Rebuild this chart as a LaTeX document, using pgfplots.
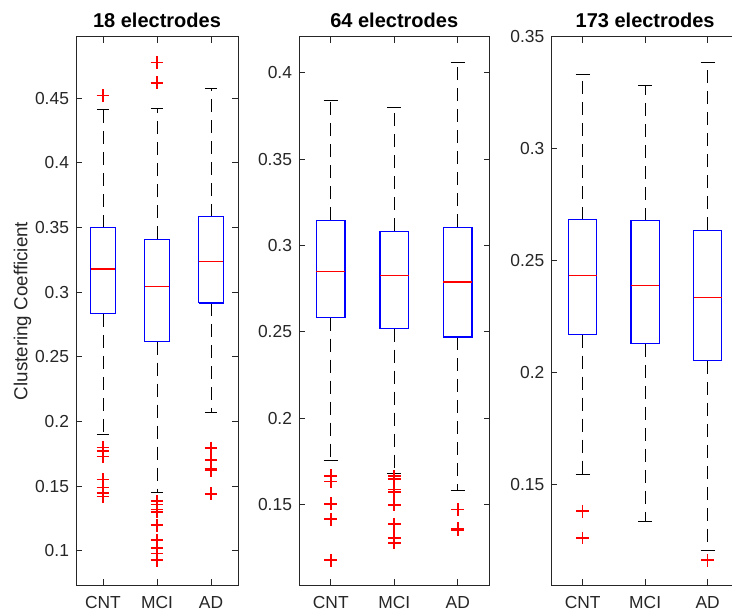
\documentclass[border=0pt]{standalone}
\usepackage{pgfplots}
\pgfplotsset{compat=1.18}
\usepackage{fontspec}
\setmainfont{Liberation Sans}
\definecolor{mgray}{rgb}{0.15,0.15,0.15}

\pgfplotsset{
  mlbox/.style={
    scale only axis, height=274pt, xmin=0.5, xmax=3.5,
    xtick={1,2,3}, xticklabels={CNT,MCI,AD},
    tick pos=both, xticklabel pos=lower, yticklabel pos=left,
    major tick length=2.8pt,
    tick style={mgray, line width=0.5pt},
    axis line style={mgray, line width=0.5pt},
    tick label style={font=\fontsize{8.7}{10}\selectfont, text=mgray},
    xticklabel style={yshift=-2pt},
    title style={font=\bfseries\fontsize{10}{12}\selectfont, yshift=-5pt},
    /pgf/number format/assume math mode=true,
    /pgf/number format/fixed,
    /pgf/number format/precision=2,
  },
  whisk/.style={black, line width=0.5pt, dash pattern=on 6.5pt off 4pt, forget plot},
  cap/.style={black, line width=0.5pt, forget plot},
  outl/.style={only marks, mark=+, red, mark size=3.2pt, mark options={line width=0.8pt}},
}

% #1 position, #2 lower whisker, #3 lower quartile, #4 median, #5 upper quartile, #6 upper whisker
\newcommand{\mlboxplot}[6]{%
  \pgfmathsetmacro{\bl}{#1-0.225}\pgfmathsetmacro{\br}{#1+0.225}%
  \pgfmathsetmacro{\cl}{#1-0.1125}\pgfmathsetmacro{\cr}{#1+0.1125}%
  \addplot[whisk] coordinates {(#1,#3) (#1,#2)};
  \addplot[whisk] coordinates {(#1,#5) (#1,#6)};
  \addplot[cap] coordinates {(\cl,#2) (\cr,#2)};
  \addplot[cap] coordinates {(\cl,#6) (\cr,#6)};
  \addplot[blue, line width=0.6pt] coordinates {(\bl,#3) (\br,#3) (\br,#5) (\bl,#5) (\bl,#3)};
  \addplot[red, line width=0.6pt] coordinates {(\bl,#4) (\br,#4)};
}

\begin{document}
\begin{tikzpicture}
\path[use as bounding box] (0,0) rectangle (366pt,307.5pt);

% 18 electrodes
\begin{axis}[mlbox, anchor=south west, at={(38pt,15pt)}, width=81pt,
  ymin=0.0735, ymax=0.4974,
  ytick={0.1,0.15,0.2,0.25,0.3,0.35,0.4,0.45},
  title={18 electrodes},
  ylabel={Clustering Coefficient},
  ylabel style={font=\fontsize{9.4}{11}\selectfont, text=mgray, yshift=-5pt}]
\mlboxplot{1}{0.190}{0.2833}{0.318}{0.350}{0.4415}
\mlboxplot{2}{0.1447}{0.2617}{0.3044}{0.341}{0.4423}
\mlboxplot{3}{0.2068}{0.2916}{0.3235}{0.3585}{0.4574}
\addplot[outl] coordinates {
  (1,0.452) (1,0.180) (1,0.177) (1,0.173) (1,0.155) (1,0.149) (1,0.1445) (1,0.142)
  (2,0.4778) (2,0.462) (2,0.1383) (2,0.1357) (2,0.132) (2,0.130) (2,0.1197)
  (2,0.1081) (2,0.1022) (2,0.0978) (2,0.0927)
  (3,0.1795) (3,0.170) (3,0.1633) (3,0.162) (3,0.144)
};
\end{axis}

% 64 electrodes
\begin{axis}[mlbox, anchor=south west, at={(149.5pt,15pt)}, width=95.25pt,
  ymin=0.1035, ymax=0.4207,
  ytick={0.15,0.2,0.25,0.3,0.35,0.4},
  title={64 electrodes}]
\mlboxplot{1}{0.1754}{0.2582}{0.2849}{0.3147}{0.384}
\mlboxplot{2}{0.168}{0.2519}{0.2828}{0.3083}{0.3801}
\mlboxplot{3}{0.1582}{0.247}{0.2789}{0.3106}{0.4062}
\addplot[outl] coordinates {
  (1,0.1667) (1,0.1633) (1,0.1505) (1,0.1416) (1,0.1178)
  (2,0.1665) (2,0.165) (2,0.1588) (2,0.1575) (2,0.1499) (2,0.1387) (2,0.1308) (2,0.1279)
  (3,0.1472) (3,0.136) (3,0.1355)
};
\end{axis}

% 173 electrodes
\begin{axis}[mlbox, anchor=south west, at={(275.7pt,15pt)}, width=93.75pt,
  ymin=0.105, ymax=0.35,
  ytick={0.15,0.2,0.25,0.3,0.35},
  title={173 electrodes}]
\mlboxplot{1}{0.1545}{0.2169}{0.2435}{0.2684}{0.3331}
\mlboxplot{2}{0.1333}{0.2128}{0.239}{0.2679}{0.3283}
\mlboxplot{3}{0.1206}{0.2052}{0.2337}{0.2636}{0.3388}
\addplot[outl] coordinates {
  (1,0.138) (1,0.126)
  (3,0.1161)
};
\end{axis}
\end{tikzpicture}
\end{document}
